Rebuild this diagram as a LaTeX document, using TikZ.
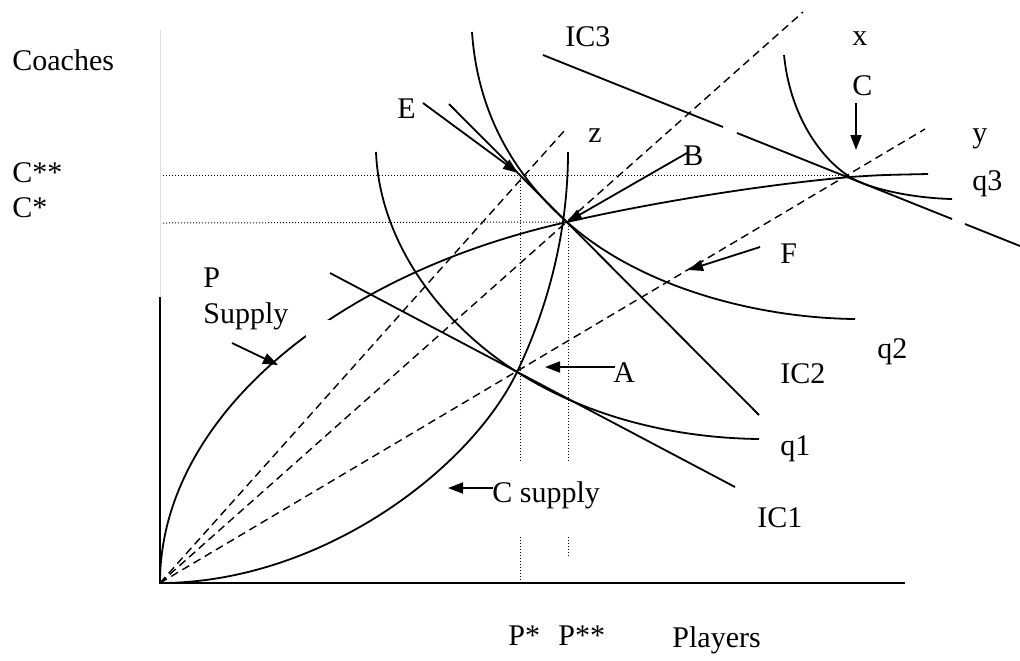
\documentclass[tikz,border=0pt]{standalone}
\usepackage{fontspec}
\setmainfont{Liberation Serif}
\usetikzlibrary{arrows.meta}

\begin{document}
\begin{tikzpicture}[
  x=0.5pt, y=-0.5pt,
  lbl/.style={anchor=base west, inner sep=0pt, font=\fontsize{15}{18}\selectfont},
  curve/.style={line width=0.9pt},
  ray/.style={line width=0.7pt, dash pattern=on 4pt off 2.5pt},
  guide/.style={line width=0.5pt, dash pattern=on 0.5pt off 1pt},
  pointer/.style={line width=0.9pt, -{Triangle[length=7.5pt,width=5.5pt]}}
]
  \useasboundingbox (0,0) rectangle (1020,660);

  % key points
  \coordinate (O) at (160,583);
  \coordinate (A) at (517,372);
  \coordinate (B) at (567,222);
  \coordinate (C) at (850,177);
  \coordinate (E) at (518,173);

  % axes
  \draw[black!12, line width=0.4pt] (160,30) -- (160,297);
  \draw[line width=1pt] (160,297) -- (O) -- (905,583);

  % guide lines
  \draw[guide] (163,175) -- (850,175);
  \draw[guide] (163,223) -- (B);
  \draw[guide] (520,175) -- (520,462);
  \draw[guide] (520,537) -- (520,583);
  \draw[guide] (568,223) -- (568,462);
  \draw[guide] (568,537) -- (568,557);

  % rays from the origin
  \draw[ray] (O) -- (565,130);
  \draw[ray] (O) -- (803,12);
  \draw[ray] (O) -- (925,129);

  % P supply
  \draw[curve] (O) .. controls (160,420) and (330,275) .. (B)
    .. controls (650,203) and (760,185) .. (C)
    .. controls (880,175) .. (928,174);
  \fill[white] (306,320) rectangle (330,350);
  % C supply
  \draw[curve] (O) .. controls (320,583) and (470,470) .. (A)
    .. controls (541,322) and (568,245) .. (568,152);

  % isoquants
  \draw[curve] (376,152) .. controls (380,250) and (450,330) .. (A)
    .. controls (593,420) and (680,438) .. (759,439);
  \draw[curve] (472,32) .. controls (478,120) and (520,180) .. (B)
    .. controls (642,289) and (760,318) .. (855,319);
  \draw[curve] (784,55) .. controls (790,115) and (820,158) .. (C)
    .. controls (867,188) and (910,198) .. (952,199);

  % isocost lines
  \draw[curve] (330,273) -- (735,487);
  \draw[curve] (449,104) -- (759,415);
  \draw[curve] (543,55) -- (723,127);
  \draw[curve] (737,133) -- (952,219);
  \draw[curve] (965,224) -- (1020,246);

  % labels
  \node[lbl] (coaches) at (12,70)  {Coaches};
  \node[lbl] (cstst)   at (12,182) {C**};
  \node[lbl] (cst)     at (12,217) {C*};
  \node[lbl] (ic3)     at (565,46) {IC3};
  \node[lbl] (xlbl)    at (852,45) {x};
  \node[lbl] (lblC)    at (852,95) {C};
  \node[lbl] (zlbl)    at (588,142) {z};
  \node[lbl] (ylbl)    at (972,142) {y};
  \node[lbl] (q3)      at (972,190) {q3};
  \node[lbl] (lblB)    at (683,165) {B};
  \node[lbl] (lblE)    at (397,118) {E};
  \node[lbl] (lblF)    at (780,263) {F};
  \node[lbl] (plbl)    at (203,287) {P};
  \node[lbl] (psup)    at (203,323) {Supply};
  \node[lbl] (q2)      at (877,358) {q2};
  \node[lbl] (ic2)     at (780,383) {IC2};
  \node[lbl] (lblA)    at (613,382) {A};
  \node[lbl] (q1)      at (780,455) {q1};
  \node[lbl] (ic1)     at (757,527) {IC1};
  \node[lbl] (csup)    at (492,502) {C supply};
  \node[lbl] (pst)     at (508,645) {P*};
  \node[lbl] (pstst)   at (558,645) {P**};
  \node[lbl] (players) at (672,647) {Players};

  % pointers
  \coordinate (eT) at (423,103);
  \coordinate (bT) at (687,153);
  \coordinate (cT) at (856,103);
  \coordinate (cH) at (856,150);
  \coordinate (aT) at (615,367);
  \coordinate (aH) at (545,367);
  \coordinate (csT) at (493,488);
  \coordinate (csH) at (448,488);
  \coordinate (pT) at (232,343);
  \coordinate (pH) at (278,365);
  \coordinate (fT) at (760,247);
  \coordinate (fH) at (688,270);
  \draw[pointer] (eT) -- (E);
  \draw[pointer] (bT) -- (B);
  \draw[pointer] (cT) -- (cH);
  \draw[pointer] (aT) -- (aH);
  \draw[pointer] (csT) -- (csH);
  \draw[pointer] (pT) -- (pH);
  \draw[pointer] (fT) -- (fH);
\end{tikzpicture}
\end{document}
